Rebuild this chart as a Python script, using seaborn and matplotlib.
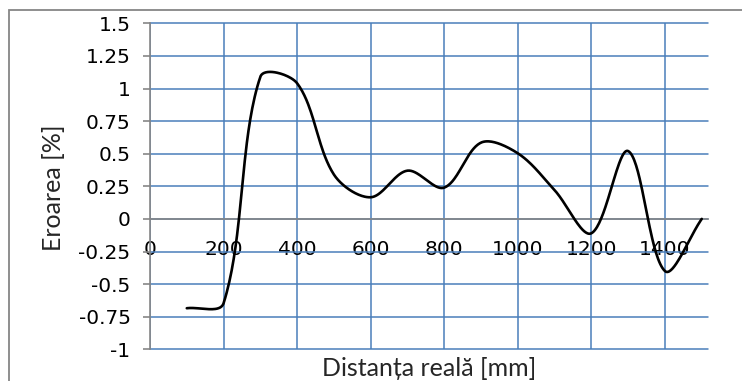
import numpy as np
import pandas as pd
import matplotlib
matplotlib.use("Agg")
import matplotlib.pyplot as plt
from matplotlib.patches import Rectangle
from matplotlib.ticker import FixedLocator, FuncFormatter
import seaborn as sns

# Measured relative error against real distance
distance_mm = [100, 200, 300, 400, 500, 600, 700, 800, 900, 1000, 1100, 1200, 1300, 1400, 1500]
error_pct = [-0.685, -0.647, 1.09, 1.04, 0.34, 0.166, 0.37, 0.24, 0.585, 0.503, 0.22, -0.11, 0.52, -0.40, 0.0]

x_ticks = [0, 200, 400, 600, 800, 1000, 1200, 1400]
y_ticks = [-1, -0.75, -0.5, -0.25, 0, 0.25, 0.5, 0.75, 1, 1.25, 1.5]

GRID_BLUE = "#4A7EBB"
AXIS_GREY = "#868686"


def smooth_curve(ax, xs, ys, n=40, tension=1 / 3):
    """Bezier smoothing (chord-length scaled Catmull-Rom) computed in pixel space."""
    pts = ax.transData.transform(np.column_stack([xs, ys]))
    m = len(pts)
    out = [pts[0]]
    for i in range(m - 1):
        p0 = pts[i - 1] if i > 0 else pts[i]
        p1 = pts[i]
        p2 = pts[i + 1]
        p3 = pts[i + 2] if i + 2 < m else pts[i + 1]
        d01 = np.linalg.norm(p1 - p0)
        d12 = np.linalg.norm(p2 - p1)
        d23 = np.linalg.norm(p3 - p2)
        s1 = d12 / (d01 + d12) if (d01 + d12) > 0 else 0
        s2 = d12 / (d12 + d23) if (d12 + d23) > 0 else 0
        c1 = p1 + (p2 - p0) * tension * s1
        c2 = p2 - (p3 - p1) * tension * s2
        t = np.linspace(0, 1, n)[1:, None]
        seg = ((1 - t) ** 3) * p1 + 3 * ((1 - t) ** 2) * t * c1 + 3 * (1 - t) * t ** 2 * c2 + t ** 3 * p2
        out.extend(seg)
    out = np.array(out)
    data = ax.transData.inverted().transform(out)
    return data[:, 0], data[:, 1]


sns.set_style("white")
plt.rcParams["font.family"] = ["DejaVu Sans"]

W, H = 742, 381
fig = plt.figure(figsize=(W / 100, H / 100), dpi=100)

# outer chart frame (extends beyond the canvas on the right and bottom)
fig.patches.append(Rectangle((8.8 / W, -0.1), 2.0, (H - 9.8) / H + 0.1,
                             transform=fig.transFigure, fill=False,
                             edgecolor=AXIS_GREY, linewidth=1.3))

left, right, top, bottom = 150, 708, 23.3, 349.3
ax = fig.add_axes([left / W, (H - bottom) / H, (right - left) / W, (bottom - top) / H])
ax.set_xlim(0, 1517)
ax.set_ylim(-1, 1.5)

# grid
ax.xaxis.set_major_locator(FixedLocator(x_ticks))
ax.yaxis.set_major_locator(FixedLocator(y_ticks))
ax.set_axisbelow(True)
ax.grid(True, color=GRID_BLUE, linewidth=1.1)
for gl in ax.get_ygridlines() + ax.get_xgridlines():
    gl.set_clip_on(False)

# axes: vertical at x=0, horizontal crossing at y=0
for s in ["top", "right"]:
    ax.spines[s].set_visible(False)
ax.spines["left"].set_color(AXIS_GREY)
ax.spines["left"].set_linewidth(1.2)
ax.spines["bottom"].set_position(("data", 0))
ax.spines["bottom"].set_color(AXIS_GREY)
ax.spines["bottom"].set_linewidth(1.2)
ax.spines["bottom"].set_zorder(2.6)

ax.tick_params(axis="y", length=5, width=1.2, color=AXIS_GREY, pad=9,
               labelsize=14.5, labelcolor="black", left=True)
ax.tick_params(axis="x", length=0, pad=15, labelsize=14.5, labelcolor="black", bottom=True)
ax.yaxis.set_major_formatter(FuncFormatter(lambda v, p: f"{v:g}"))
ax.xaxis.set_major_formatter(FuncFormatter(lambda v, p: f"{v:g}"))

sx, sy = smooth_curve(ax, distance_mm, error_pct)
curve = pd.DataFrame({"x": sx, "y": sy})
sns.lineplot(data=curve, x="x", y="y", sort=False, estimator=None,
             color="black", linewidth=1.9, ax=ax, zorder=3)

ax.set_xlabel("")
ax.set_ylabel("")
title_font = ["Lato", "DejaVu Sans"]
fig.text(429 / W, 1 - 376 / H, "Distanța reală [mm]", ha="center", va="baseline",
         fontsize=18, family=title_font)
fig.text(61 / W, 1 - 188 / H, "Eroarea [%]", ha="center", va="baseline", rotation=90,
         rotation_mode="anchor", fontsize=18, family=title_font)

fig.savefig("out.png", dpi=100)
